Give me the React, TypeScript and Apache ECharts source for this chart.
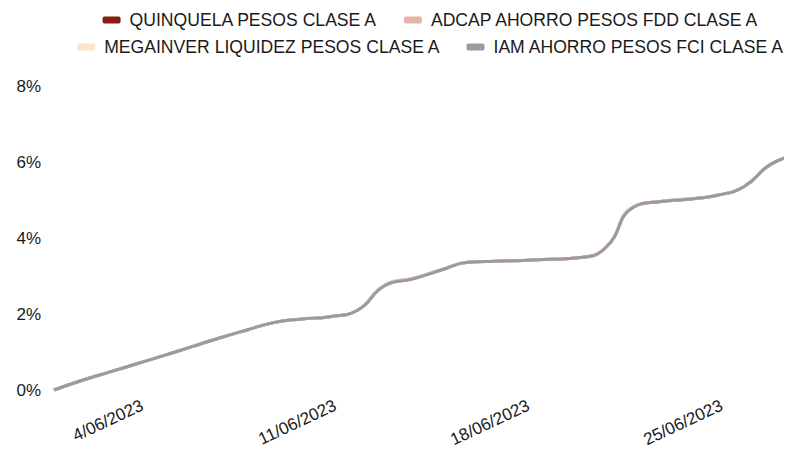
import React, { useEffect, useRef } from "react";
import * as echarts from "echarts";

const dates = [
  "1/06/2023", "2/06/2023", "3/06/2023", "4/06/2023", "5/06/2023", "6/06/2023", "7/06/2023",
  "8/06/2023", "9/06/2023", "10/06/2023", "11/06/2023", "12/06/2023", "13/06/2023", "14/06/2023",
  "15/06/2023", "16/06/2023", "17/06/2023", "18/06/2023", "19/06/2023", "20/06/2023", "21/06/2023",
  "22/06/2023", "23/06/2023", "24/06/2023", "25/06/2023", "26/06/2023", "27/06/2023", "28/06/2023",
];

const xTickLabels = ["4/06/2023", "11/06/2023", "18/06/2023", "25/06/2023"];
const yTicks = [0, 2, 4, 6, 8];

const quinquela = [0, 0.25, 0.47, 0.69, 0.91, 1.14, 1.37, 1.58, 1.78, 1.87, 1.93, 2.1, 2.76, 2.93, 3.15, 3.36, 3.39, 3.41, 3.44, 3.48, 3.75, 4.82, 4.96, 5.02, 5.12, 5.35, 5.95, 6.2];
const adcap = [0, 0.25, 0.47, 0.69, 0.91, 1.14, 1.37, 1.58, 1.78, 1.87, 1.93, 2.1, 2.77, 2.94, 3.16, 3.36, 3.39, 3.41, 3.44, 3.48, 3.75, 4.83, 4.97, 5.03, 5.12, 5.35, 5.96, 6.2];
const megainver = [0, 0.25, 0.47, 0.69, 0.91, 1.14, 1.37, 1.58, 1.78, 1.87, 1.93, 2.1, 2.76, 2.93, 3.15, 3.36, 3.39, 3.41, 3.44, 3.48, 3.75, 4.82, 4.96, 5.02, 5.12, 5.35, 5.95, 6.2];
const iam = [0, 0.25, 0.47, 0.69, 0.91, 1.14, 1.37, 1.58, 1.78, 1.87, 1.93, 2.1, 2.75, 2.92, 3.15, 3.36, 3.39, 3.41, 3.44, 3.48, 3.75, 4.81, 4.96, 5.02, 5.12, 5.35, 5.95, 6.2];

const seriesNames = [
  "QUINQUELA PESOS CLASE A",
  "ADCAP AHORRO PESOS FDD CLASE A",
  "MEGAINVER LIQUIDEZ PESOS CLASE A",
  "IAM AHORRO PESOS FCI CLASE A",
];
const seriesColors = ["#8a1c10", "#e6b3a8", "#fde3c9", "#9b9b9b"];
const seriesData = [quinquela, adcap, megainver, iam];

const FONT = "'Liberation Sans', Arial, sans-serif";

export default function App() {
  const ref = useRef<HTMLDivElement>(null);
  useEffect(() => {
    if (!ref.current) return;
    const chart = echarts.init(ref.current, null, { renderer: "svg" });
    const legendCommon = {
      left: "center",
      icon: "roundRect",
      itemWidth: 18,
      itemHeight: 7,
      itemGap: 26,
      selectedMode: false,
      textStyle: { fontFamily: FONT, fontSize: 17.6, color: "#1a1a1a", padding: [0, 0, 0, 4] },
    };
    chart.setOption({
      animation: false,
      textStyle: { fontFamily: FONT },
      legend: [
        { ...legendCommon, top: -2, data: [seriesNames[0], seriesNames[1]] },
        { ...legendCommon, top: 25, data: [seriesNames[2], seriesNames[3]] },
      ],
      grid: { left: 46, right: 55, top: 78, bottom: 67, containLabel: false },
      xAxis: {
        type: "category",
        data: dates,
        boundaryGap: false,
        axisLine: { show: false },
        axisTick: { show: false },
        splitLine: { show: false },
        axisLabel: {
          rotate: 25,
          margin: 17,
          fontSize: 17,
          color: "#1a1a1a",
          fontFamily: FONT,
          padding: [0, -6, 0, 0],
          interval: (_i: number, v: string) => xTickLabels.includes(v),
        },
      },
      yAxis: {
        type: "value",
        min: yTicks[0],
        max: yTicks[yTicks.length - 1],
        interval: 2,
        axisLine: { show: false },
        axisTick: { show: false },
        splitLine: { show: false },
        axisLabel: {
          formatter: "{value}%",
          fontSize: 17,
          color: "#1a1a1a",
          margin: 13,
          fontFamily: FONT,
        },
      },
      series: seriesNames.map((name, i) => ({
        name,
        type: "line",
        data: seriesData[i],
        smooth: 0.5,
        showSymbol: false,
        symbol: "none",
        color: seriesColors[i],
        lineStyle: { width: 3, color: seriesColors[i] },
        z: 2 + i,
      })),
    });
    return () => chart.dispose();
  }, []);
  return (
    <div style={{ width: 784, height: 449, overflow: "hidden", position: "relative" }}>
      <div ref={ref} style={{ width: 846, height: 449 }} />
    </div>
  );
}
